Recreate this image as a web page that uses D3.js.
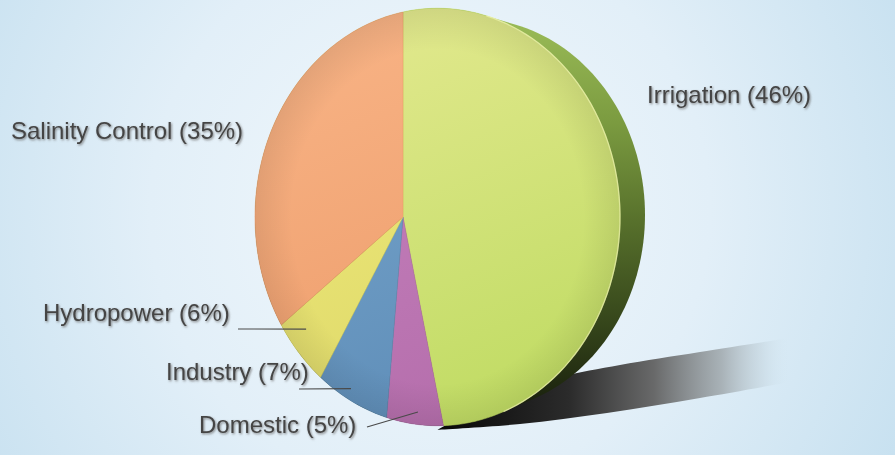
<!DOCTYPE html>
<html><head><meta charset="utf-8">
<script src="https://cdn.jsdelivr.net/npm/d3@7"></script>
<style>html,body{margin:0;padding:0;overflow:hidden;background:#e4f1f8}</style>
</head><body>
<svg id="chart" width="895" height="455"></svg>
<script>
// ---- data ----
const categories = ["Irrigation", "Domestic", "Industry", "Hydropower", "Salinity Control"];
const values = [46, 5, 7, 6, 35];
const colorsTop = ["#e3e98f", "#c884bf", "#79a7cd", "#f1eb7d", "#f8b385"];
const colorsBottom = ["#bfdb62", "#b46dab", "#5d8cb7", "#dcd767", "#ec9a68"];

// ---- layout (label anchors and leader lines) ----
const labelLayout = [
  {x: 647, y: 103, line: null},
  {x: 199, y: 433, line: {x: 367, y: 427, f: 0.42, r: 0.94}},
  {x: 166, y: 380, line: {x: 299, y: 389, f: 0.55, r: 0.94}},
  {x: 43,  y: 321, line: {x: 238, y: 329, f: 0.655, r: 0.866}},
  {x: 11,  y: 139, line: null}
];

const W = 895, H = 455;
const svg = d3.select("#chart");
const defs = svg.append("defs");

// perspective projection of the unit disc
const P = {cx: 403, cy: 217, a: 176, b: 205, k: -0.189};
function proj(u, v) { const w = 1 + P.k * u; return [P.cx + P.a * u / w, P.cy + P.b * v / w]; }
function polar(t, r) { return proj(r * Math.sin(t), -r * Math.cos(t)); }
const E = {cx: P.cx - P.a * P.k / (1 - P.k * P.k), cy: P.cy, rx: P.a / (1 - P.k * P.k), ry: P.b / Math.sqrt(1 - P.k * P.k)};

// background
const bg = defs.append("radialGradient").attr("id", "bg").attr("gradientUnits", "userSpaceOnUse")
  .attr("cx", 430).attr("cy", 210).attr("r", 560);
bg.append("stop").attr("offset", 0).attr("stop-color", "#f2f8fc");
bg.append("stop").attr("offset", 0.5).attr("stop-color", "#e2eff8");
bg.append("stop").attr("offset", 1).attr("stop-color", "#c4dfef");
svg.append("rect").attr("width", W).attr("height", H).attr("fill", "url(#bg)");

// shadow
const sg = defs.append("linearGradient").attr("id", "shadowG").attr("gradientUnits", "userSpaceOnUse")
  .attr("x1", 450).attr("y1", 0).attr("x2", 790).attr("y2", 0);
[[0, "#0a0a0a", 1], [0.35, "#2b2b2b", 1], [0.6, "#626262", 0.95], [0.8, "#9ca4a8", 0.8], [0.92, "#c3d3dc", 0.5], [1, "#d5e8f3", 0]]
  .forEach(s => sg.append("stop").attr("offset", s[0]).attr("stop-color", s[1]).attr("stop-opacity", s[2]));
const lower = [[E.cx, E.cy + E.ry + 4], [520, 424], [607, 413], [700, 398], [790, 382]];
const upper = [[790, 338], [700, 352], [620, 365], [560, 377], [500, 395]];
const curve = d3.line().curve(d3.curveCatmullRom);
svg.append("path").attr("d", curve(lower) + "L" + curve(upper).slice(1) + "Z").attr("fill", "url(#shadowG)");

// side (extrusion)
const bs = 0.94;
const back = {rx: E.rx * bs, ry: E.ry * bs, cy: E.cy - 2};
back.cx = 645 - back.rx;
const hullPts = [];
for (let i = 0; i < 180; i++) {
  const t = i / 180 * 2 * Math.PI;
  hullPts.push([E.cx + E.rx * Math.cos(t), E.cy + E.ry * Math.sin(t)]);
  hullPts.push([back.cx + back.rx * Math.cos(t), back.cy + back.ry * Math.sin(t)]);
}
const hull = d3.polygonHull(hullPts);
const sideG = defs.append("linearGradient").attr("id", "sideG").attr("gradientUnits", "userSpaceOnUse")
  .attr("x1", 0).attr("y1", 20).attr("x2", 0).attr("y2", 430);
[[0, "#9abb57"], [0.25, "#7b9b40"], [0.5, "#566f2b"], [0.75, "#34441a"], [1, "#111509"]]
  .forEach(s => sideG.append("stop").attr("offset", s[0]).attr("stop-color", s[1]));
svg.append("path").attr("d", "M" + hull.join("L") + "Z").attr("fill", "url(#sideG)");

// pie face
const arcs = d3.pie().sort(null).value(d => d).startAngle(0).endAngle(2 * Math.PI)(values);
const line = d3.line();
function slicePath(a0, a1) {
  const pts = [polar(0, 0)];
  const n = Math.max(4, Math.ceil((a1 - a0) * 60));
  for (let i = 0; i <= n; i++) pts.push(polar(a0 + (a1 - a0) * i / n, 1));
  return line(pts) + "Z";
}
arcs.forEach((a, i) => {
  const g = defs.append("linearGradient").attr("id", "sl" + i).attr("gradientUnits", "userSpaceOnUse")
    .attr("x1", E.cx - 80).attr("y1", E.cy - E.ry).attr("x2", E.cx + 80).attr("y2", E.cy + E.ry);
  g.append("stop").attr("offset", 0).attr("stop-color", colorsTop[i]);
  g.append("stop").attr("offset", 1).attr("stop-color", colorsBottom[i]);
});
svg.append("g").selectAll("path").data(arcs).join("path")
  .attr("d", a => slicePath(a.startAngle, a.endAngle))
  .attr("fill", (a, i) => `url(#sl${i})`)
  .attr("stroke", (a, i) => colorsBottom[i]).attr("stroke-width", 0.5);

// subtle edge shading on face
const rim = defs.append("radialGradient").attr("id", "rim").attr("gradientUnits", "userSpaceOnUse")
  .attr("cx", E.cx).attr("cy", E.cy).attr("r", E.ry).attr("gradientTransform",
    `translate(${E.cx},${E.cy}) scale(${E.rx / E.ry},1) translate(${-E.cx},${-E.cy})`);
rim.append("stop").attr("offset", 0.8).attr("stop-color", "#000").attr("stop-opacity", 0);
rim.append("stop").attr("offset", 1).attr("stop-color", "#000").attr("stop-opacity", 0.08);
svg.append("path").attr("d", slicePath(0, 2 * Math.PI)).attr("fill", "url(#rim)");

// highlight on right rim
const rimPts = [];
for (let i = 0; i <= 60; i++) rimPts.push(polar(0.45 + (2.6 - 0.45) * i / 60, 1));
svg.append("path").attr("d", line(rimPts)).attr("fill", "none")
  .attr("stroke", "#f3f6b5").attr("stroke-width", 1.3).attr("stroke-opacity", 0.7);

// text shadow
const f = defs.append("filter").attr("id", "ts").attr("x", -0.05).attr("y", -0.2).attr("width", 1.1).attr("height", 1.5);
f.append("feDropShadow").attr("dx", 1).attr("dy", 1.2).attr("stdDeviation", 0.8)
  .attr("flood-color", "#6f6f6f").attr("flood-opacity", 0.85);

// leader lines
arcs.forEach((a, i) => {
  const L = labelLayout[i].line;
  if (!L) return;
  const end = polar(a.startAngle + (a.endAngle - a.startAngle) * L.f, L.r);
  svg.append("line").attr("x1", L.x).attr("y1", L.y).attr("x2", end[0]).attr("y2", end[1])
    .attr("stroke", "#4a4a4a").attr("stroke-width", 1.2);
});

// labels
svg.append("g").selectAll("text").data(arcs).join("text")
  .attr("x", (a, i) => labelLayout[i].x).attr("y", (a, i) => labelLayout[i].y)
  .attr("font-family", "Liberation Sans, Arial, sans-serif").attr("font-size", 24)
  .attr("fill", "#454545").attr("filter", "url(#ts)")
  .text((a, i) => `${categories[i]} (${values[i]}%)`);
</script>
</body></html>
